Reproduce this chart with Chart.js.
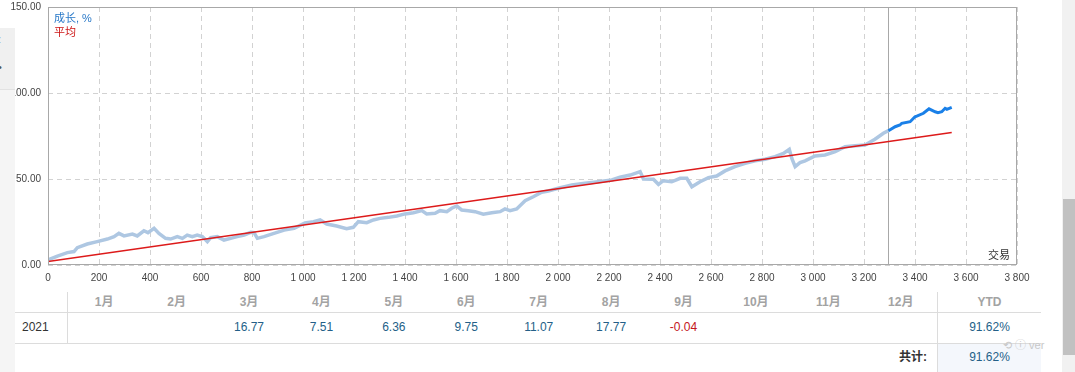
<!DOCTYPE html>
<html lang="zh">
<head>
<meta charset="utf-8">
<title>成长, %</title>
<script src="https://cdn.jsdelivr.net/npm/chart.js@4.4.0/dist/chart.umd.min.js"></script>
<style>
    html, body { margin: 0; padding: 0; background: #fff; }
    body {
        width: 1075px; height: 372px; overflow: hidden; position: relative;
        font-family: "Liberation Sans", "Noto Sans CJK SC", sans-serif;
    }
    #chart { position: absolute; left: 0; top: 0; }
    .side-top { position: absolute; left: 0; top: 28px; width: 15px; height: 61px; background: #f0f0f0; border-bottom: 1px solid #e2e2e2; color: #555; font-size: 11px; }
    .side { position: absolute; left: 0; top: 90px; width: 15px; bottom: 0; background: #f5f5f5; }
    .track { position: absolute; left: 1062px; top: 0; width: 13px; height: 372px; background: #f1f1f1; }
    .thumb { position: absolute; left: 1063px; top: 199px; width: 12px; height: 156px; background: #c1c1c1; }
    .cell { position: absolute; text-align: center; font-size: 12px; white-space: nowrap; }
    .head { color: #a3a3a3; font-weight: bold; top: 292px; height: 20px; line-height: 20px; }
    .val { color: #245f88; top: 312px; height: 31px; line-height: 31px; }
    .neg { color: #c4161c; }
    .rule { position: absolute; background: #dcdcdc; }
    .total-bg { position: absolute; left: 938px; top: 344px; width: 103px; height: 28px; background: #f4f7fc; }
    .mark { position: absolute; left: 1003px; top: 336px; font-size: 11px; color: #c8c8c8; }
</style>
</head>
<body>
<canvas id="chart" width="1075" height="290"></canvas>
<div class="side-top"><span style="position:absolute;left:-2px;top:5px">:</span><span style="position:absolute;left:-2px;top:33px">•</span></div>
<div class="side"></div>
<div class="track"></div>
<div class="thumb"></div>
<div id="stats"></div>
<div class="mark">⟲ ⓘ ver</div>

<script>
// Growth curve: trade number -> growth, %
const historyTrades = [0, 37, 76, 102, 115, 154, 193, 233, 259, 278, 298, 331, 350, 376, 392, 416, 435, 461, 481,
    507, 527, 546, 566, 585, 605, 625, 638, 664, 690, 716, 742, 769, 795, 808, 821, 847, 886, 926, 965,
    1008, 1041, 1067, 1093, 1132, 1171, 1197, 1217, 1250, 1276, 1302, 1335, 1368, 1400, 1433, 1466, 1485,
    1518, 1537, 1564, 1583, 1603, 1622, 1648, 1675, 1707, 1740, 1773, 1792, 1812, 1838, 1871, 1903, 1936,
    1962, 2001, 2054, 2106, 2158, 2211, 2243, 2283, 2322, 2335, 2374, 2394, 2413, 2446, 2479, 2505, 2525,
    2557, 2590, 2622, 2655, 2694, 2734, 2773, 2812, 2851, 2884, 2907, 2917, 2930, 2949, 2969, 3008, 3047,
    3087, 3126, 3165, 3204, 3243, 3276, 3296];
const historyGrowth = [3.0, 5.2, 7.2, 7.8, 10.1, 12.2, 13.6, 15.1, 16.5, 18.4, 16.9, 18.0, 16.9, 19.9, 18.8, 21.3, 18.4, 15.5, 15.1,
    16.5, 15.5, 17.4, 16.5, 17.4, 16.5, 13.6, 15.9, 16.5, 14.5, 15.5, 16.5, 17.4, 19.0, 18.8, 15.5, 16.5, 18.4, 20.3, 21.3,
    24.5, 25.2, 26.2, 23.8, 22.7, 21.1, 21.9, 25.2, 24.6, 26.2, 27.1, 27.7, 28.5, 29.7, 30.4, 31.6, 29.7,
    30.1, 31.6, 31.0, 33.0, 34.3, 32.0, 31.6, 31.0, 29.5, 30.4, 31.0, 32.6, 31.6, 32.6, 37.4, 39.7, 42.3,
    43.0, 44.6, 46.5, 47.5, 48.4, 49.4, 51.0, 52.3, 54.3, 50.0, 49.8, 46.9, 49.0, 48.4, 50.4, 50.4, 45.5,
    48.4, 50.8, 51.7, 54.7, 57.2, 59.1, 60.6, 61.5, 63.0, 64.9, 67.3, 62.0, 57.2, 59.5, 60.6, 63.4, 64.0,
    65.9, 68.8, 69.4, 69.8, 73.1, 76.6, 78.1];
const recentTrades = [3296, 3322, 3341, 3348, 3381, 3400, 3407, 3433, 3455, 3479, 3490, 3505, 3518, 3525, 3544];
const recentGrowth = [78.1, 80.4, 81.4, 82.4, 83.3, 86.2, 86.6, 88.2, 90.8, 89.1, 88.6, 89.1, 91.1, 90.5, 91.6];

// Average (trend) line
const averageTrades = [0, 3544];
const averageGrowth = [2, 77];

// Trade where the recent part of the curve starts
const splitTrade = 3296;

// Axis ranges
const xMax = 3800, xStep = 200;
const yMax = 150, yStep = 50;

// Monthly table
const months = ['1月', '2月', '3月', '4月', '5月', '6月', '7月', '8月', '9月', '10月', '11月', '12月'];
const year = '2021';
const monthlyGain = [null, null, 16.77, 7.51, 6.36, 9.75, 11.07, 17.77, -0.04, null, null, null];
const ytdGain = '91.62%';
const totalGain = '91.62%';

const FONT = '"Liberation Sans", "Noto Sans CJK SC", sans-serif';

const toPoints = (xs, ys) => xs.map((x, i) => ({ x, y: ys[i] }));
const spaced = v => String(v).replace(/\B(?=(\d{3})+(?!\d))/g, ' ');

/**
 * Frame, split marker, legend and axis title
 */
const framePlugin = {
    id: 'frame',
    beforeDatasetsDraw(chart) {
        const { ctx, chartArea: a, scales: { x } } = chart;
        const sx = Math.round(x.getPixelForValue(splitTrade)) + 0.5;
        ctx.save();
        ctx.strokeStyle = '#a8a8a8';
        ctx.lineWidth = 1;
        ctx.beginPath();
        ctx.moveTo(sx, a.top);
        ctx.lineTo(sx, a.bottom);
        ctx.stroke();
        ctx.restore();
    },
    afterDraw(chart) {
        const { ctx, chartArea: a } = chart;
        ctx.save();
        ctx.strokeStyle = '#a8a8a8';
        ctx.lineWidth = 1;
        ctx.strokeRect(Math.round(a.left) + 0.5, Math.round(a.top) + 0.5,
            Math.round(a.width) - 1, Math.round(a.height) - 1);

        ctx.font = '11px ' + FONT;
        ctx.textBaseline = 'middle';
        ctx.textAlign = 'left';
        ctx.fillStyle = '#2878c8';
        ctx.fillText('成长, %', a.left + 6, a.top + 12);
        ctx.fillStyle = '#cc1414';
        ctx.fillText('平均', a.left + 6, a.top + 26);

        ctx.textAlign = 'right';
        ctx.fillStyle = '#333';
        ctx.fillText('交易', a.right - 7, a.bottom - 9);
        ctx.restore();
    }
};

const tickFont = { size: 10, family: FONT };

new Chart(document.getElementById('chart'), {
    type: 'scatter',
    data: {
        datasets: [
            {
                label: '平均',
                data: toPoints(averageTrades, averageGrowth),
                showLine: true, borderColor: '#dd1a1a', borderWidth: 1.5,
                pointRadius: 0, order: 0
            },
            {
                label: '成长, %',
                data: toPoints(recentTrades, recentGrowth),
                showLine: true, borderColor: '#1a80e8', borderWidth: 3,
                pointRadius: 0, order: 1
            },
            {
                label: '成长, % (history)',
                data: toPoints(historyTrades, historyGrowth),
                showLine: true, borderColor: '#aec7e2', borderWidth: 3.5,
                pointRadius: 0, order: 2
            }
        ]
    },
    options: {
        responsive: false,
        animation: false,
        devicePixelRatio: 1,
        layout: { padding: { top: 7, right: 58, left: 0, bottom: 0 } },
        plugins: { legend: { display: false }, tooltip: { enabled: false } },
        scales: {
            x: {
                type: 'linear', min: 0, max: xMax,
                afterFit: s => { s.height = 25; s.paddingLeft = 0; s.paddingRight = 0; },
                ticks: {
                    stepSize: xStep, autoSkip: false, maxRotation: 0, padding: 7,
                    color: '#444', font: tickFont, callback: v => spaced(v)
                },
                grid: { color: '#d2d2d2', drawTicks: false },
                border: { display: false, dash: [5, 4] }
            },
            y: {
                min: 0, max: yMax,
                // keep the plot top fixed, the top label may overflow it
                afterFit: s => { s.width = 48; s.paddingTop = 0; s.paddingBottom = 0; },
                ticks: {
                    stepSize: yStep, padding: 7,
                    color: '#444', font: tickFont, callback: v => v.toFixed(2)
                },
                grid: { color: '#d2d2d2', drawTicks: false },
                border: { display: false, dash: [5, 4] }
            }
        }
    },
    plugins: [framePlugin]
});

// Monthly table below the chart
function buildTable() {
    const box = document.getElementById('stats');
    const colLeft = 68, colRight = 937, colW = (colRight - colLeft) / months.length;
    const add = (cls, style, text) => {
        const d = document.createElement('div');
        d.className = cls;
        Object.assign(d.style, style);
        if (text !== undefined) d.textContent = text;
        box.appendChild(d);
    };

    add('total-bg', {});
    add('rule', { left: '15px', top: '312px', width: '1026px', height: '1px' });
    add('rule', { left: '15px', top: '343px', width: '1026px', height: '1px' });
    add('rule', { left: (colLeft - 1) + 'px', top: '292px', width: '1px', height: '51px' });
    add('rule', { left: colRight + 'px', top: '292px', width: '1px', height: '80px' });

    months.forEach((m, i) => {
        const left = (colLeft + colW * i) + 'px';
        add('cell head', { left, width: colW + 'px' }, m);
        const v = monthlyGain[i];
        if (v !== null) {
            add('cell val' + (v < 0 ? ' neg' : ''), { left, width: colW + 'px' }, v.toFixed(2));
        }
    });
    add('cell head', { left: '938px', width: '103px' }, 'YTD');
    add('cell val', { left: '938px', width: '103px' }, ytdGain);
    add('cell val', { left: '22px', width: 'auto', color: '#333', textAlign: 'left' }, year);
    add('cell', { left: '820px', width: '107px', top: '343px', height: '29px', lineHeight: '29px',
        textAlign: 'right', fontWeight: 'bold', color: '#333' }, '共计:');
    add('cell', { left: '938px', width: '103px', top: '343px', height: '29px', lineHeight: '29px',
        color: '#245f88' }, totalGain);
}

buildTable();
</script>
</body>
</html>
